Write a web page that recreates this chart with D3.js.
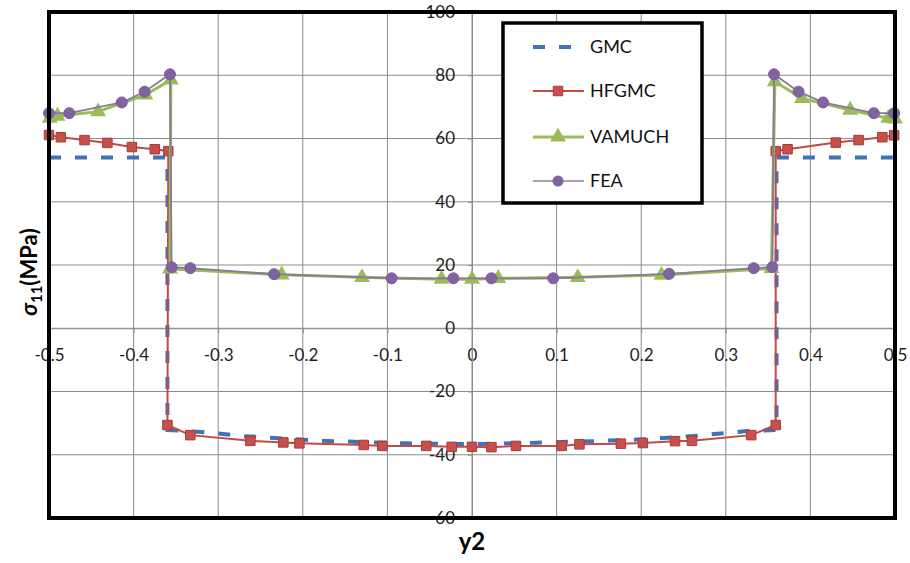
<!DOCTYPE html>
<html>
<head>
<meta charset="utf-8">
<script src="https://cdn.jsdelivr.net/npm/d3@7"></script>
<style>
  body { margin: 0; background: #fff; }
  text { font-family: Lato, "Liberation Sans", sans-serif; }
</style>
</head>
<body>
<svg id="chart"></svg>
<script>
// tick values
const xTicks = [-0.5, -0.4, -0.3, -0.2, -0.1, 0, 0.1, 0.2, 0.3, 0.4, 0.5];
const yTicks = [-60, -40, -20, 0, 20, 40, 60, 80, 100];

// GMC (dashed, no markers)
const gmcY2 = [-0.5, -0.36, -0.36, -0.343, -0.302, -0.271, -0.207, -0.176, -0.117, -0.077, -0.018, 0.009, 0.076, 0.143, 0.206, 0.261, 0.329, 0.36, 0.36, 0.5];
const gmcS11 = [54, 54, -32.2, -32.4, -33.2, -34.1, -35.1, -35.6, -36.1, -36.4, -36.6, -36.6, -36.2, -35.7, -35.1, -34.1, -32.4, -32.2, 54, 54];

// HFGMC
const hfgmcY2 = [-0.5, -0.486, -0.458, -0.431, -0.402, -0.375, -0.359, -0.36, -0.333, -0.262, -0.223, -0.204, -0.128, -0.106, -0.054, -0.024, 0.0, 0.023, 0.052, 0.106, 0.127, 0.176, 0.202, 0.24, 0.26, 0.33, 0.359, 0.359, 0.373, 0.43, 0.457, 0.485, 0.499];
const hfgmcS11 = [61.1, 60.4, 59.5, 58.6, 57.3, 56.6, 56.0, -30.6, -33.8, -35.6, -36.1, -36.4, -36.9, -37.2, -37.2, -37.5, -37.5, -37.6, -37.2, -37.2, -36.7, -36.5, -36.3, -35.7, -35.6, -33.8, -30.6, 56.0, 56.6, 58.7, 59.5, 60.4, 61.0];

// VAMUCH
const vamuchY2 = [-0.499, -0.49, -0.442, -0.386, -0.356, -0.357, -0.225, -0.13, -0.036, 0.0, 0.031, 0.125, 0.224, 0.354, 0.358, 0.39, 0.447, 0.492, 0.5];
const vamuchS11 = [66.4, 67.1, 68.5, 73.8, 78.5, 18.8, 16.9, 16.1, 15.5, 15.5, 15.8, 16.1, 16.8, 18.9, 78.0, 72.7, 69.0, 66.4, 66.2];

// FEA
const feaY2 = [-0.5, -0.476, -0.414, -0.387, -0.357, -0.355, -0.333, -0.234, -0.095, -0.022, 0.023, 0.096, 0.233, 0.333, 0.355, 0.357, 0.386, 0.415, 0.475, 0.499];
const feaS11 = [68.0, 68.0, 71.4, 74.8, 80.3, 19.3, 19.0, 17.1, 15.8, 15.8, 15.8, 15.8, 17.2, 19.0, 19.3, 80.3, 74.8, 71.4, 68.0, 68.0];

const seriesNames = ["GMC", "HFGMC", "VAMUCH", "FEA"];

const width = 910, height = 563;
const margin = { top: 12, right: 15, bottom: 45, left: 49 };
const innerW = width - margin.left - margin.right;
const innerH = height - margin.top - margin.bottom;

const svg = d3.select("#chart")
    .attr("width", width)
    .attr("height", height);

const x = d3.scaleLinear().domain([-0.5, 0.5]).range([margin.left, margin.left + innerW]);
const y = d3.scaleLinear().domain([-60, 100]).range([margin.top + innerH, margin.top]);

const zip = (a, b) => a.map((v, i) => [v, b[i]]);

// gridlines
svg.append("g")
    .selectAll("line")
    .data(xTicks.slice(1, -1))
    .join("line")
    .attr("x1", d => x(d)).attr("x2", d => x(d))
    .attr("y1", y(100)).attr("y2", y(-60))
    .attr("stroke", "#8c8c8c").attr("stroke-width", 1);

svg.append("g")
    .selectAll("line")
    .data(yTicks.slice(1, -1))
    .join("line")
    .attr("x1", x(-0.5)).attr("x2", x(0.5))
    .attr("y1", d => y(d)).attr("y2", d => y(d))
    .attr("stroke", "#8c8c8c").attr("stroke-width", 1);

// axes crossing at zero (plain hyphen for negatives, like the original)
const xAxis = d3.axisBottom(x).tickValues(xTicks).tickSize(5).tickPadding(16)
    .tickFormat(d => String(d));
const yAxis = d3.axisLeft(y).tickValues(yTicks).tickSize(4).tickPadding(13)
    .tickFormat(d => String(d));

const xAxisG = svg.append("g").attr("transform", `translate(0,${y(0)})`).call(xAxis);
const yAxisG = svg.append("g").attr("transform", `translate(${x(0)},0)`).call(yAxis);

[xAxisG, yAxisG].forEach(g => {
    g.select(".domain").attr("stroke", "#8c8c8c");
    g.selectAll(".tick line").attr("stroke", "#8c8c8c");
    g.selectAll(".tick text")
        .attr("fill", "#222")
        .style("font-size", "17px")
        .style("font-family", "Lato, 'Liberation Sans', sans-serif");
});

// series lines
const line = d3.line().x(d => x(d[0])).y(d => y(d[1]));

svg.append("path")
    .datum(zip(gmcY2, gmcS11))
    .attr("fill", "none")
    .attr("stroke", "#3f73b8")
    .attr("stroke-width", 4)
    .attr("stroke-dasharray", "12,14")
    .attr("d", line);

svg.append("path")
    .datum(zip(hfgmcY2, hfgmcS11))
    .attr("fill", "none")
    .attr("stroke", "#be4b48")
    .attr("stroke-width", 2)
    .attr("d", line);

svg.append("g")
    .selectAll("path")
    .data(zip(hfgmcY2, hfgmcS11))
    .join("path")
    .attr("transform", d => `translate(${x(d[0])},${y(d[1])})`)
    .attr("d", d3.symbol(d3.symbolSquare, 90))
    .attr("fill", "#c8504c")
    .attr("stroke", "#a63c39")
    .attr("stroke-width", 1);

svg.append("path")
    .datum(zip(vamuchY2, vamuchS11))
    .attr("fill", "none")
    .attr("stroke", "#9bbb59")
    .attr("stroke-width", 3)
    .attr("d", line);

svg.append("g")
    .selectAll("path")
    .data(zip(vamuchY2, vamuchS11))
    .join("path")
    .attr("transform", d => `translate(${x(d[0])},${y(d[1])})`)
    .attr("d", d3.symbol(d3.symbolTriangle, 110))
    .attr("fill", "#9bbb59");

svg.append("path")
    .datum(zip(feaY2, feaS11))
    .attr("fill", "none")
    .attr("stroke", "#857a9a")
    .attr("stroke-width", 1.8)
    .attr("d", line);

svg.append("g")
    .selectAll("circle")
    .data(zip(feaY2, feaS11))
    .join("circle")
    .attr("cx", d => x(d[0]))
    .attr("cy", d => y(d[1]))
    .attr("r", 5.5)
    .attr("fill", "#8064a2")
    .attr("stroke", "#7a5c9e");

// plot frame
svg.append("rect")
    .attr("x", x(-0.5)).attr("y", y(100))
    .attr("width", x(0.5) - x(-0.5)).attr("height", y(-60) - y(100))
    .attr("fill", "none").attr("stroke", "#000").attr("stroke-width", 4);

// legend
const legend = svg.append("g").attr("transform", "translate(503,23)");
legend.append("rect")
    .attr("width", 199).attr("height", 180)
    .attr("fill", "#fff").attr("stroke", "#000").attr("stroke-width", 3.5);

const legendY = [24, 68, 114, 158];
seriesNames.forEach((name, i) => {
    const g = legend.append("g").attr("transform", `translate(0,${legendY[i]})`);
    const ln = g.append("line").attr("x1", 30).attr("x2", 81).attr("y1", 0).attr("y2", 0);
    if (name === "GMC") {
        ln.attr("stroke", "#3f73b8").attr("stroke-width", 4).attr("stroke-dasharray", "12,14");
    } else if (name === "HFGMC") {
        ln.attr("stroke", "#be4b48").attr("stroke-width", 2);
        g.append("path").attr("transform", "translate(55,0)")
            .attr("d", d3.symbol(d3.symbolSquare, 90))
            .attr("fill", "#c8504c").attr("stroke", "#a63c39");
    } else if (name === "VAMUCH") {
        ln.attr("stroke", "#9bbb59").attr("stroke-width", 3);
        g.append("path").attr("transform", "translate(55,0)")
            .attr("d", d3.symbol(d3.symbolTriangle, 110))
            .attr("fill", "#9bbb59");
    } else {
        ln.attr("stroke", "#8a7fa6").attr("stroke-width", 1.5);
        g.append("circle").attr("cx", 55).attr("cy", 0).attr("r", 5.5)
            .attr("fill", "#8064a2");
    }
    g.append("text")
        .attr("x", 87).attr("y", 0).attr("dy", "0.35em")
        .style("font-size", "18px")
        .attr("fill", "#111")
        .text(name);
});

// axis titles
svg.append("text")
    .attr("x", x(0)).attr("y", 550)
    .attr("text-anchor", "middle")
    .style("font-size", "24px").style("font-weight", "bold")
    .text("y2");

const yTitle = svg.append("text")
    .attr("transform", "translate(37,272) rotate(-90)")
    .attr("text-anchor", "middle")
    .style("font-size", "22px").style("font-weight", "bold");
yTitle.append("tspan").style("font-style", "italic").text("σ");
yTitle.append("tspan").attr("dy", 5).style("font-size", "15px").text("11");
yTitle.append("tspan").attr("dy", -5).text("(MPa)");
</script>
</body>
</html>
